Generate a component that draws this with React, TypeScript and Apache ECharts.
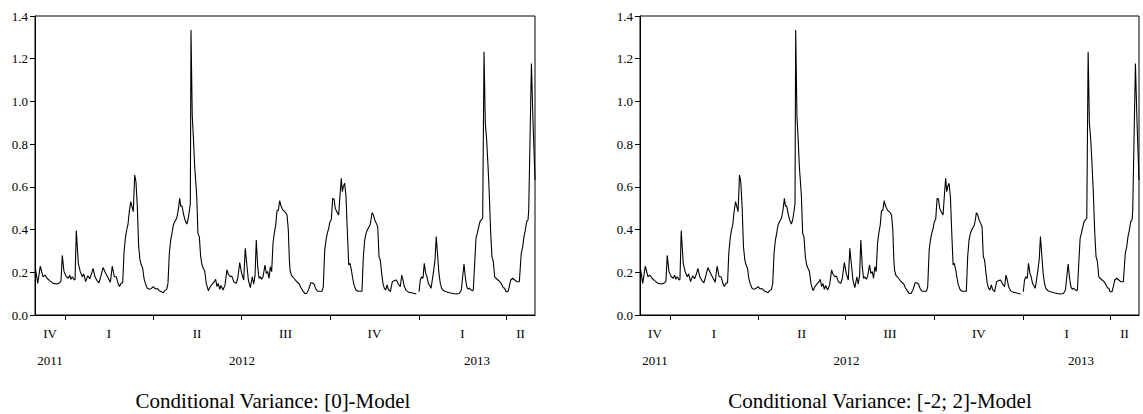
import React, { useEffect, useRef } from "react";
import * as echarts from "echarts";

// x values: calendar days since 2011-12-01
const axisMaxDay = 517;
const quarterTickDays = [31, 122, 213, 305, 397, 487];
const quarterLabelDays = [15.5, 76.5, 167.5, 259, 351, 442, 502];
const quarterLabels = ["IV", "I", "II", "III", "IV", "I", "II"];
const yearLabelDays = [15.5, 214, 457];
const yearLabels = ["2011", "2012", "2013"];
const panelTitles = ["Conditional Variance: [0]-Model", "Conditional Variance: [-2; 2]-Model"];

// [day, conditional variance]
const condVarM0: [number, number | null][] = [
  [0.7, 0.211], [2.8, 0.148], [5.5, 0.229], [8.3, 0.179], [10.3, 0.187], [12.4, 0.172], [15.2, 0.161], [18.6, 0.148],
  [22.7, 0.145], [25.5, 0.151], [26.9, 0.16], [28.2, 0.279], [30.0, 0.203], [32.4, 0.179], [34.4, 0.172], [35.9, 0.186],
  [37.2, 0.167], [38.6, 0.179], [40.6, 0.164], [41.4, 0.167], [42.7, 0.395], [44.8, 0.242], [46.8, 0.203], [48.9, 0.179],
  [50.4, 0.192], [52.4, 0.156], [54.5, 0.183], [56.6, 0.17], [58.6, 0.195], [60.0, 0.218], [62.0, 0.179], [64.1, 0.161],
  [66.2, 0.151], [68.2, 0.183], [70.3, 0.222], [73.1, 0.195], [75.8, 0.172], [77.9, 0.153], [79.9, 0.229], [82.0, 0.179],
  [84.1, 0.179], [86.1, 0.145], [87.4, 0.133], [89.2, 0.15], [90.7, 0.15], [92.0, 0.289], [93.4, 0.359], [94.8, 0.398],
  [96.2, 0.426], [97.5, 0.484], [99.0, 0.531], [100.3, 0.507], [101.6, 0.484], [103.1, 0.655], [104.4, 0.624], [105.8, 0.507],
  [107.2, 0.32], [108.6, 0.258], [109.9, 0.234], [111.4, 0.219], [112.7, 0.172], [114.1, 0.148], [116.1, 0.125], [118.2, 0.12],
  [120.3, 0.125], [122.3, 0.133], [124.4, 0.122], [126.5, 0.124], [128.5, 0.114], [130.6, 0.109], [132.7, 0.104], [134.1, 0.114],
  [136.2, 0.12], [137.5, 0.148], [138.9, 0.289], [140.3, 0.351], [141.7, 0.385], [143.0, 0.421], [144.5, 0.437], [146.5, 0.453],
  [147.9, 0.484], [149.6, 0.546], [150.7, 0.51], [152.0, 0.51], [153.8, 0.468], [155.1, 0.445], [156.9, 0.426], [158.2, 0.445],
  [159.5, 0.484], [160.6, 0.52], [161.3, 1.334], [162.6, 0.93], [163.9, 0.82], [165.1, 0.694], [167.2, 0.56], [168.5, 0.382],
  [169.9, 0.367], [171.3, 0.273], [172.7, 0.234], [174.0, 0.219], [175.5, 0.205], [177.1, 0.148], [179.2, 0.114], [181.3, 0.133],
  [183.3, 0.145], [185.4, 0.156], [186.8, 0.167], [188.2, 0.133], [189.5, 0.148], [191.0, 0.12], [192.3, 0.138], [194.4, 0.117],
  [196.5, 0.141], [198.5, 0.211], [199.9, 0.192], [201.9, 0.179], [203.4, 0.183], [205.5, 0.156], [208.1, 0.148], [209.6, 0.172],
  [211.7, 0.245], [213.7, 0.195], [215.8, 0.164], [217.4, 0.312], [218.9, 0.242], [220.6, 0.164], [222.6, 0.128], [224.7, 0.179],
  [226.1, 0.145], [227.5, 0.183], [228.8, 0.351], [230.3, 0.226], [231.6, 0.172], [233.0, 0.179], [234.4, 0.167], [235.8, 0.179],
  [237.8, 0.234], [239.2, 0.195], [240.6, 0.203], [242.0, 0.172], [243.3, 0.226], [244.7, 0.203], [246.1, 0.336], [247.4, 0.382],
  [248.9, 0.421], [250.2, 0.488], [251.6, 0.491], [253.0, 0.535], [254.4, 0.51], [256.4, 0.491], [259.2, 0.479], [260.6, 0.468],
  [261.9, 0.4], [263.0, 0.26], [263.7, 0.211], [265.0, 0.187], [266.5, 0.179], [267.8, 0.172], [269.2, 0.164], [270.6, 0.156],
  [271.9, 0.151], [273.3, 0.145], [274.7, 0.13], [276.8, 0.114], [278.9, 0.101], [280.9, 0.101], [283.0, 0.12], [285.1, 0.151],
  [286.4, 0.151], [288.5, 0.145], [290.6, 0.12], [292.6, 0.111], [294.7, 0.111], [296.8, 0.111], [298.1, 0.133], [299.6, 0.304],
  [300.9, 0.351], [302.2, 0.382], [303.7, 0.406], [305.0, 0.437], [306.4, 0.448], [307.8, 0.546], [309.2, 0.543], [310.5, 0.499],
  [312.0, 0.484], [314.0, 0.468], [315.4, 0.562], [316.7, 0.64], [317.8, 0.577], [318.8, 0.601], [320.2, 0.617], [321.6, 0.554],
  [322.9, 0.398], [324.4, 0.234], [325.7, 0.242], [327.1, 0.211], [328.5, 0.172], [329.8, 0.141], [331.9, 0.117], [334.0, 0.111],
  [336.1, 0.111], [338.1, 0.111], [339.5, 0.273], [340.9, 0.351], [342.3, 0.382], [343.6, 0.398], [345.0, 0.41], [346.4, 0.421],
  [347.7, 0.453], [348.5, 0.479], [349.8, 0.47], [351.3, 0.445], [352.9, 0.429], [354.4, 0.413], [355.7, 0.273], [357.0, 0.258],
  [358.5, 0.195], [359.8, 0.148], [361.2, 0.125], [362.6, 0.117], [364.0, 0.141], [365.3, 0.12], [367.4, 0.109], [369.5, 0.156],
  [371.5, 0.161], [373.6, 0.164], [375.7, 0.145], [377.7, 0.133], [379.2, 0.187], [380.5, 0.164], [381.9, 0.133], [383.9, 0.114],
  [386.7, 0.106], [389.5, 0.104], [392.2, 0.101], [394.3, 0.098], [395.7, null], [397.1, 0.109], [398.4, 0.164], [399.8, 0.179],
  [401.2, 0.172], [402.5, 0.242], [404.0, 0.195], [405.3, 0.179], [406.7, 0.148], [408.1, 0.138], [409.5, 0.125], [410.8, 0.164],
  [412.3, 0.211], [413.6, 0.258], [414.9, 0.367], [416.4, 0.273], [417.7, 0.195], [419.1, 0.148], [420.5, 0.125], [422.6, 0.114],
  [425.3, 0.109], [428.8, 0.104], [432.2, 0.101], [435.6, 0.098], [438.7, 0.101], [440.8, 0.117], [442.2, 0.179], [443.6, 0.239],
  [444.9, 0.179], [446.4, 0.133], [447.7, 0.12], [449.1, 0.125], [450.5, 0.12], [451.9, 0.114], [453.2, 0.117], [454.6, 0.242],
  [456.0, 0.359], [457.3, 0.382], [458.8, 0.413], [460.1, 0.437], [461.5, 0.445], [462.9, 0.453], [464.3, 1.233], [465.6, 0.9],
  [467.0, 0.82], [468.4, 0.7], [469.7, 0.57], [471.2, 0.382], [472.5, 0.273], [473.9, 0.25], [475.3, 0.179], [476.7, 0.172],
  [478.7, 0.164], [480.8, 0.156], [482.9, 0.141], [484.2, 0.128], [485.7, 0.125], [487.0, 0.109], [489.1, 0.109], [490.4, 0.133],
  [491.9, 0.164], [493.9, 0.172], [496.0, 0.164], [498.1, 0.156], [500.8, 0.156], [502.8, 0.289], [504.3, 0.32], [505.6, 0.367],
  [507.0, 0.398], [508.4, 0.437], [509.8, 0.445], [510.5, 0.492], [513.3, 1.178], [514.9, 0.91], [517.0, 0.632],
];
// the [-2; 2] model's estimated variance reads identically in the picture
const condVarM22: [number, number | null][] = condVarM0.map((p) => [p[0], p[1]]);

const FONT = "'Liberation Serif', 'Times New Roman', serif";

const pick = (days: number[], labels: string[]) => (v: number) => {
  const i = days.findIndex((d) => Math.abs(d - v) < 0.01);
  return i >= 0 ? labels[i] : "";
};

export default function App() {
  const ref = useRef<HTMLDivElement>(null);
  useEffect(() => {
    if (!ref.current) return;
    const chart = echarts.init(ref.current, undefined, { renderer: "svg" });
    const grids = [
      { left: 35, top: 16, width: 500, height: 299 },
      { left: 640, top: 16, width: 499, height: 299 },
    ];
    const xAxes: any[] = [];
    const yAxes: any[] = [];
    const series: any[] = [];
    const data = [condVarM0, condVarM22];
    grids.forEach((_, g) => {
      xAxes.push({
        type: "value",
        gridIndex: g,
        min: 0,
        max: axisMaxDay,
        position: "bottom",
        axisLine: { show: true, lineStyle: { color: "#000", width: 1 } },
        axisTick: { show: true, inside: false, length: 5, customValues: quarterTickDays, lineStyle: { color: "#000" } },
        axisLabel: {
          show: true,
          customValues: quarterLabelDays,
          formatter: pick(quarterLabelDays, quarterLabels),
          margin: 12,
          color: "#000",
          fontFamily: FONT,
          fontSize: 13,
        },
        splitLine: { show: false },
      });
      xAxes.push({
        type: "value",
        gridIndex: g,
        min: 0,
        max: axisMaxDay,
        position: "bottom",
        offset: 31,
        axisLine: { show: false },
        axisTick: { show: false },
        axisLabel: {
          show: true,
          customValues: yearLabelDays,
          formatter: pick(yearLabelDays, yearLabels),
          margin: 8,
          color: "#000",
          fontFamily: FONT,
          fontSize: 13,
        },
        splitLine: { show: false },
      });
      yAxes.push({
        type: "value",
        gridIndex: g,
        min: 0,
        max: 1.4,
        interval: 0.2,
        axisLine: { show: true, lineStyle: { color: "#000", width: 1 } },
        axisTick: { show: true, inside: false, length: 5, lineStyle: { color: "#000" } },
        axisLabel: {
          formatter: (v: number) => v.toFixed(1),
          margin: 7,
          color: "#000",
          fontFamily: FONT,
          fontSize: 13,
        },
        splitLine: { show: false },
      });
      series.push({
        type: "line",
        xAxisIndex: g * 2,
        yAxisIndex: g,
        data: data[g],
        showSymbol: false,
        symbol: "none",
        connectNulls: false,
        lineStyle: { color: "#000", width: 1.1 },
        silent: true,
      });
    });
    const titleStyle = (text: string) => ({
      text,
      fill: "#000",
      fontFamily: FONT,
      fontSize: 21,
      align: "center",
      verticalAlign: "middle",
      textAlign: "center",
      textVerticalAlign: "middle",
    });
    chart.setOption({
      animation: false,
      backgroundColor: "#fff",
      grid: grids.map((gr) => ({ ...gr, show: true, borderColor: "#000", borderWidth: 1, backgroundColor: "transparent" })),
      xAxis: xAxes,
      yAxis: yAxes,
      series,
      graphic: [
        { type: "text", x: 273, y: 401, style: titleStyle(panelTitles[0]) },
        { type: "text", x: 880, y: 401, style: titleStyle(panelTitles[1]) },
      ],
    });
    return () => chart.dispose();
  }, []);
  return (
    <div
      ref={ref}
      style={{ position: "absolute", left: 0, top: 0, width: 1143, height: 414, background: "#fff" }}
    />
  );
}
